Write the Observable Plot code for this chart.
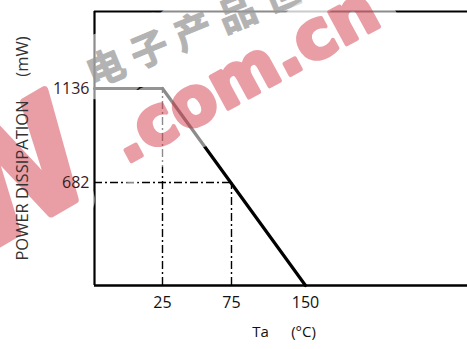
<!DOCTYPE html>
<html><head><meta charset="utf-8">
<script src="https://cdn.jsdelivr.net/npm/d3@7"></script>
<script src="https://cdn.jsdelivr.net/npm/@observablehq/plot@0.6"></script>
<style>body{margin:0;background:#fff}</style>
</head><body><div id="chart"></div>
<script>
// Data
const xBreaks = [0, 25, 75, 150, 250];
const yBreaks = [0, 682, 1136, 1500];
const xTicks = [25, 75, 150];
const yTicks = [1136, 682];
const flatTemps = [0, 25];
const flatPower = [1136, 1136];
const slopeTemps = [25, 150];
const slopePower = [1136, 0];
const guideTemps = [25, 75];
const guidePower = [1136, 682];
const xTitle = ["Ta", "(°C)"];
const yTitle = ["POWER DISSIPATION", "(mW)"];
const watermark = ["电\u2005子\u2005产\u2005品\u2005世\u2005界", ".com.cn", "EEPW"];

const flat = flatTemps.map((t, i) => ({t, p: flatPower[i]}));
const slope = slopeTemps.map((t, i) => ({t, p: slopePower[i]}));
const guides = guideTemps.map((t, i) => ({t, p: guidePower[i]}));

const font = "'Open Sans', sans-serif";
const dash = "8,3,2,3";

// watermark pieces: a white halo layer, then the glyph layer
function wm(text, pos, glyph, haloWidth) {
  const base = {frameAnchor: "top-left", ...pos};
  return [
    Plot.text([text], {...base, ...glyph.font, fill: "#fff", stroke: "#fff", strokeWidth: haloWidth, strokeLinejoin: "round", opacity: 0.55}),
    Plot.text([text], {...base, ...glyph.font, fill: glyph.color, stroke: glyph.color, strokeWidth: glyph.weight, strokeLinejoin: "round", opacity: glyph.opacity})
  ];
}

const chart = Plot.plot({
  width: 467,
  height: 349,
  marginLeft: 94, marginRight: 0, marginTop: 11, marginBottom: 64,
  style: {fontFamily: font, background: "#fff", color: "#222"},
  x: {type: "linear", domain: xBreaks, range: [94, 162, 231, 305, 467], axis: null},
  y: {type: "linear", domain: yBreaks, range: [285, 182, 88, 11], axis: null},
  marks: [
    // frame (left, top, bottom)
    Plot.ruleX([xBreaks[0]], {y1: yBreaks[0], y2: yBreaks[yBreaks.length - 1], stroke: "#000", strokeWidth: 2.2}),
    Plot.ruleY([yBreaks[yBreaks.length - 1]], {x1: xBreaks[0], x2: xBreaks[xBreaks.length - 1], stroke: "#000", strokeWidth: 2.2}),
    Plot.ruleY([yBreaks[0]], {x1: xBreaks[0], x2: xBreaks[xBreaks.length - 1], stroke: "#000", strokeWidth: 2.6}),
    // dash-dot guides
    Plot.ruleX(guides, {x: "t", y1: 0, y2: "p", stroke: "#000", strokeWidth: 1.4, strokeDasharray: dash}),
    Plot.ruleY([guides[1]], {y: "p", x1: 0, x2: "t", stroke: "#000", strokeWidth: 1.4, strokeDasharray: dash}),
    // derating curve
    Plot.line(flat, {x: "t", y: "p", stroke: "#111", strokeWidth: 3}),
    Plot.line(slope, {x: "t", y: "p", stroke: "#000", strokeWidth: 3.2}),
    // watermark
    ...wm(watermark[0], {dx: 88 - 94, dy: 76 - 11, rotate: -22.5, textAnchor: "start", lineAnchor: "middle"},
      {font: {fontSize: 38, fontWeight: "bold", fontFamily: "'Noto Sans CJK SC'"}, color: "#9a9a9a", weight: 1, opacity: 0.75}, 34),
    ...wm(watermark[1], {dx: 125 - 94, dy: 164 - 11, rotate: -28.5, textAnchor: "start", lineAnchor: "bottom"},
      {font: {fontSize: 67, fontWeight: "bold", fontFamily: "'DejaVu Sans'"}, color: "#d0283a", weight: 4, opacity: 0.45}, 44),
    ...wm(watermark[2], {dx: 99 - 94, dy: 185 - 11, rotate: -30, textAnchor: "end", lineAnchor: "bottom"},
      {font: {fontSize: 160, fontWeight: "bold", fontFamily: "'Liberation Sans'"}, color: "#d0283a", weight: 8, opacity: 0.45}, 40),
    // tick labels
    Plot.text(xTicks, {x: d => d, y: yBreaks[0], text: d => String(d), dy: 17, fontSize: 16, fill: "#111"}),
    Plot.text(yTicks, {x: xBreaks[0], y: d => d, text: d => String(d), dx: -5, textAnchor: "end", fontSize: 16, fill: "#3a1a1a"}),
    // axis titles
    Plot.text([xTitle[0]], {frameAnchor: "bottom", dx: 260 - 280.5, dy: 51, fontSize: 15, fill: "#111"}),
    Plot.text([xTitle[1]], {frameAnchor: "bottom", dx: 303 - 280.5, dy: 51, fontSize: 15, fill: "#111"}),
    Plot.text([yTitle[0]], {frameAnchor: "left", dx: -72, dy: 180 - 148, rotate: -90, textAnchor: "middle", fontSize: 16.5, fill: "#333"}),
    Plot.text([yTitle[1]], {frameAnchor: "left", dx: -72, dy: 56 - 148, rotate: -90, textAnchor: "middle", fontSize: 16.5, fill: "#333"})
  ]
});
document.getElementById("chart").append(chart);
</script>
</body></html>
